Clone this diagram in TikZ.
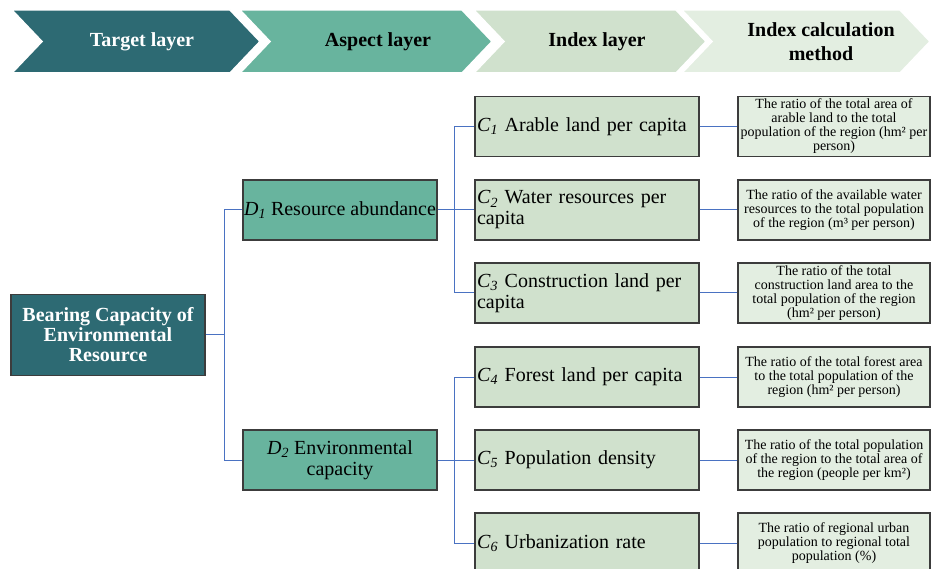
\documentclass[tikz,border=0pt]{standalone}
\usepackage{fontspec}
\setmainfont{Liberation Serif}
\definecolor{darkteal}{HTML}{2D6A73}
\definecolor{midgreen}{HTML}{68B49E}
\definecolor{lightgreen}{HTML}{D0E1CD}
\definecolor{palegreen}{HTML}{E3EEE1}
\definecolor{bordergray}{HTML}{3C3C3C}
\definecolor{linkblue}{HTML}{4A72C2}
\newcommand{\sub}[2]{\textit{#1}\textsubscript{\textit{#2}}}
\begin{document}
\begin{tikzpicture}[x=1pt,y=-1pt,
  chev/.style={draw=white, line width=1.5pt},
  headtext/.style={font=\fontsize{20}{24}\selectfont\bfseries, align=center, inner sep=0pt},
  basebox/.style={draw=bordergray, line width=1.1pt, minimum height=60pt, inner ysep=1pt},
  rootbox/.style={basebox, fill=darkteal, text=white, minimum width=194pt, minimum height=81pt,
    font=\fontsize{20}{20}\selectfont\bfseries, align=center},
  aspbox/.style={basebox, fill=midgreen, minimum width=194pt, inner xsep=1pt,
    font=\fontsize{20}{21}\selectfont, align=center},
  idxbox/.style={basebox, fill=lightgreen, text width=220pt, inner xsep=2pt,
    font=\fontsize{20}{21}\selectfont, align=left},
  methbox/.style={basebox, fill=palegreen, minimum width=192pt, inner xsep=1pt,
    font=\fontsize{14}{14}\selectfont, align=center},
  link/.style={draw=linkblue, line width=1pt}
]
\clip (0,0) rectangle (932,569);
% header chevrons
\fill[white] (0,0) rectangle (932,569);
\filldraw[chev, fill=darkteal] (12,10) -- (230,10) -- (260,41.5) -- (230,73) -- (12,73) -- (42,41.5) -- cycle;
\filldraw[chev, fill=midgreen] (240,10) -- (462,10) -- (492,41.5) -- (462,73) -- (240,73) -- (270,41.5) -- cycle;
\filldraw[chev, fill=lightgreen] (474,10) -- (676,10) -- (706,41.5) -- (676,73) -- (474,73) -- (504,41.5) -- cycle;
\filldraw[chev, fill=palegreen] (682,10) -- (900,10) -- (930,41.5) -- (900,73) -- (682,73) -- (712,41.5) -- cycle;
\node[headtext, text=white] (h1) at (142,42) {Target layer};
\node[headtext] (h2) at (378,42) {Aspect layer};
\node[headtext] (h3) at (597,42) {Index layer};
\node[headtext] (h4) at (821,42) {Index calculation\\method};

% boxes
\node[rootbox] (root) at (108,335) {Bearing Capacity of\\Environmental\\Resource};
\node[aspbox] (d1) at (340,210) {\sub{D}{1} Resource abundance};
\node[aspbox] (d2) at (340,460) {\sub{D}{2} Environmental\\capacity};

\node[idxbox] (c1) at (587,126.5) {\sub{C}{1} Arable land per capita};
\node[idxbox] (c2) at (587,210) {\sub{C}{2} Water resources per\\capita};
\node[idxbox] (c3) at (587,293) {\sub{C}{3} Construction land per\\capita};
\node[idxbox] (c4) at (587,377) {\sub{C}{4} Forest land per capita};
\node[idxbox] (c5) at (587,460) {\sub{C}{5} Population density};
\node[idxbox] (c6) at (587,543) {\sub{C}{6} Urbanization rate};

\node[methbox] (m1) at (834,126.5) {The ratio of the total area of\\arable land to the total\\population of the region (hm² per\\person)};
\node[methbox] (m2) at (834,210) {The ratio of the available water\\resources to the total population\\of the region (m³ per person)};
\node[methbox] (m3) at (834,293) {The ratio of the total\\construction land area to the\\total population of the region\\(hm² per person)};
\node[methbox] (m4) at (834,377) {The ratio of the total forest area\\to the total population of the\\region (hm² per person)};
\node[methbox] (m5) at (834,460) {The ratio of the total population\\of the region to the total area of\\the region (people per km²)};
\node[methbox] (m6) at (834,543) {The ratio of regional urban\\population to regional total\\population (\%)};

% connectors
\draw[link] (root.east) -- ++(19,0) |- (d1.west);
\draw[link] (root.east) -- ++(19,0) |- (d2.west);
\draw[link] (d1.east) -- (c2.west);
\draw[link] (c1.west) -- ++(-20,0) |- (c3.west);
\draw[link] (d2.east) -- (c5.west);
\draw[link] (c4.west) -- ++(-20,0) |- (c6.west);
\foreach \i in {1,...,6} { \draw[link] (c\i.east) -- (m\i.west); }
\end{tikzpicture}
\end{document}
